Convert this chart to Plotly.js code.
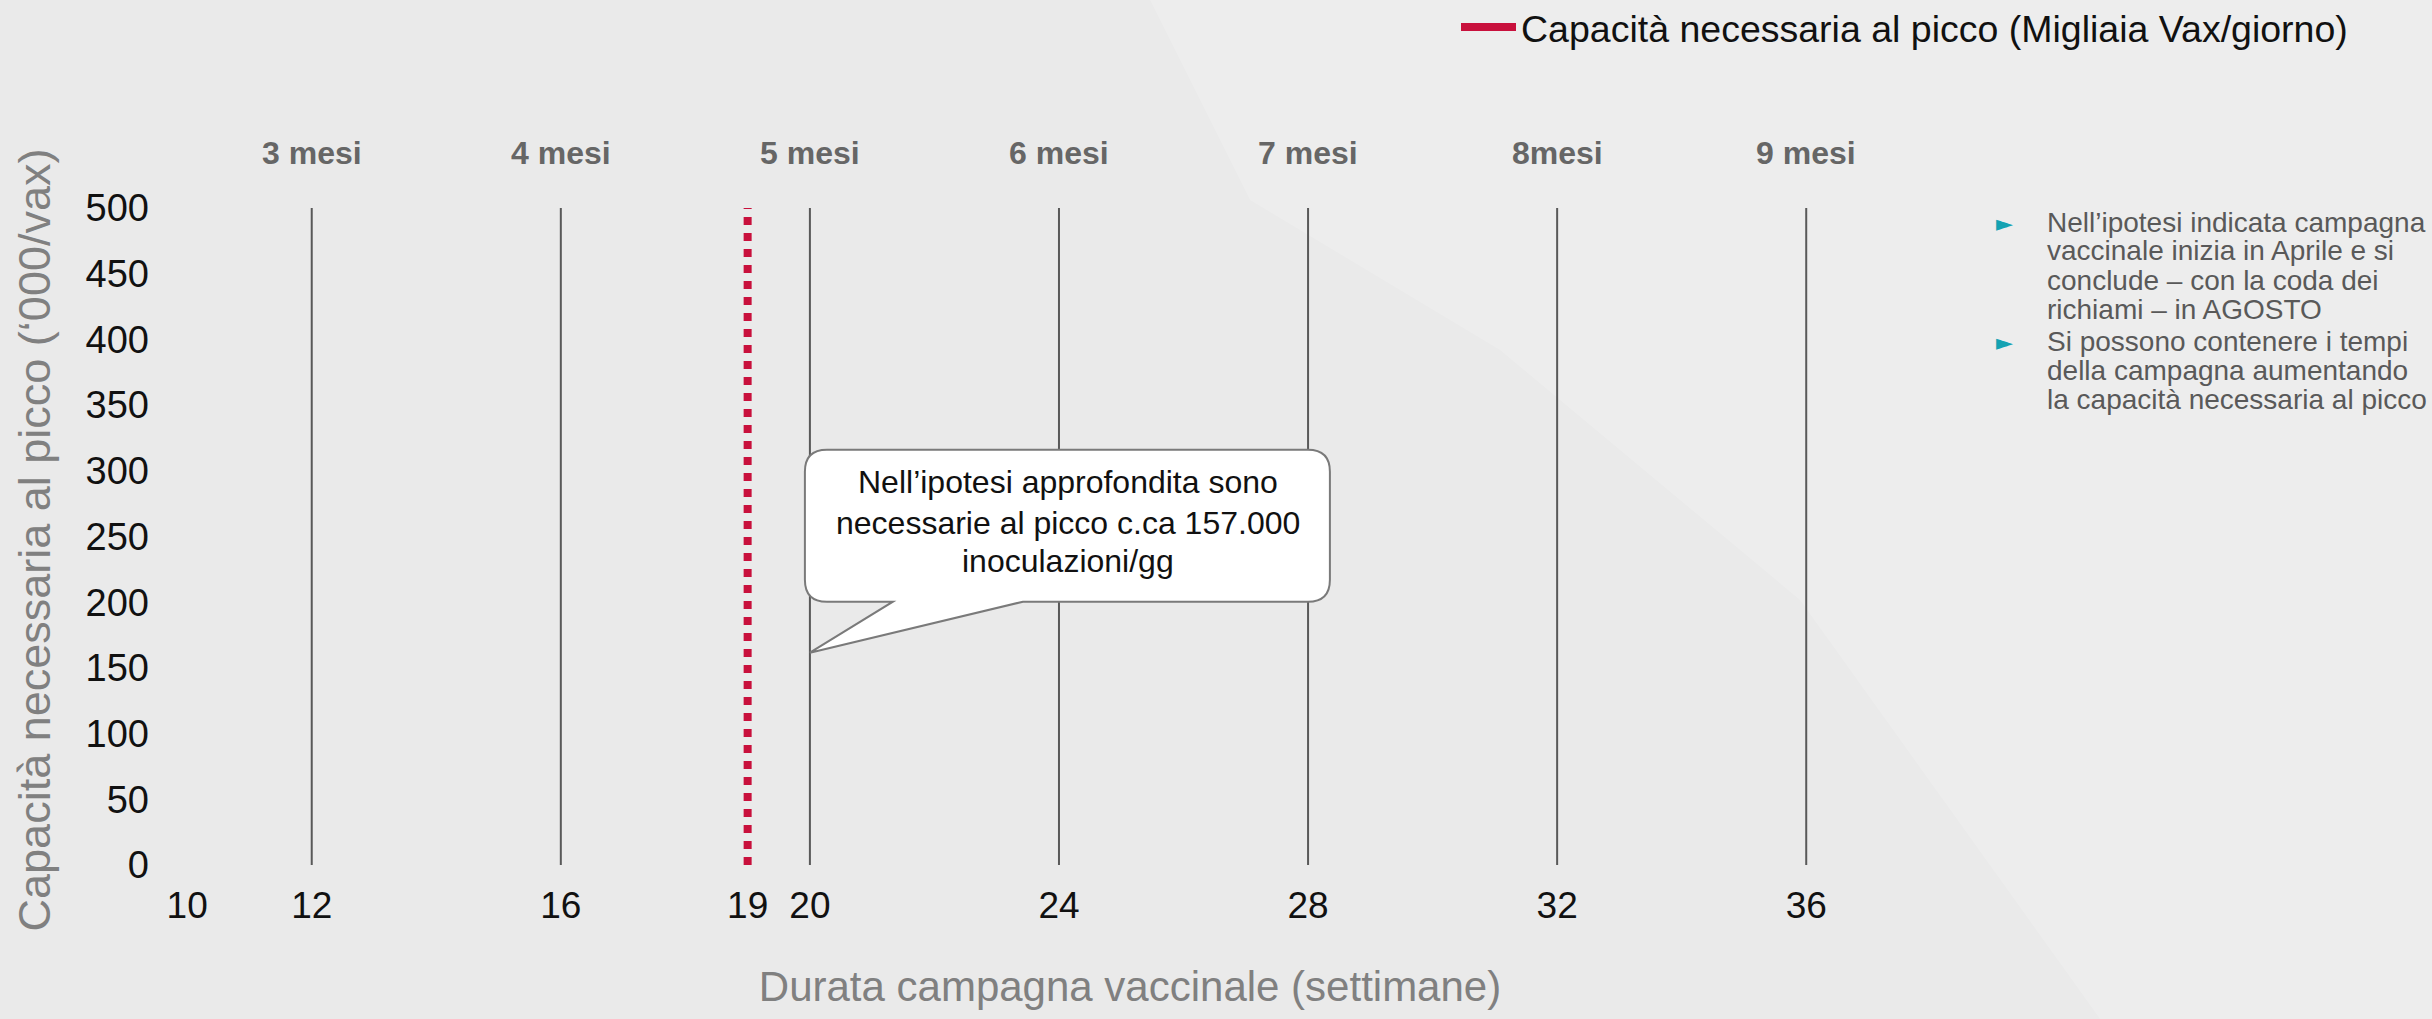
<!DOCTYPE html>
<html>
<head>
<meta charset="utf-8">
<script src="https://cdn.plot.ly/plotly-3.0.1.min.js"></script>
<style>
  html, body { margin: 0; padding: 0; background: #ebebeb; }
  #chart { width: 2432px; height: 1019px; }
</style>
</head>
<body>
<div id="chart"></div>
<script>
// ---------------- data ----------------
const weeks = [12, 16, 20, 24, 28, 32, 36];
const monthLabels = ['3 mesi', '4 mesi', '5 mesi', '6 mesi', '7 mesi', '8mesi', '9 mesi'];
const xTickVals = [10, 12, 16, 19, 20, 24, 28, 32, 36];
const yTickVals = [0, 50, 100, 150, 200, 250, 300, 350, 400, 450, 500];
const capacityMin = 0;
const capacityMax = 500;
const peakWeek = 19;                 // red dotted line
const calloutWeek = 20;              // callout pointer
const calloutCapacity = 157;         // '000 inoculations/day
const legendName = 'Capacità necessaria al picco (Migliaia Vax/giorno)';
const calloutLines = ['Nell’ipotesi approfondita sono', 'necessarie al picco c.ca 157.000', 'inoculazioni/gg'];
const bullet1Lines = ['Nell’ipotesi indicata campagna', 'vaccinale inizia in Aprile e si', 'conclude – con la coda dei', 'richiami – in AGOSTO'];
const bullet2Lines = ['Si possono contenere i tempi', 'della campagna aumentando', 'la capacità necessaria al picco'];
const xTitle = 'Durata campagna vaccinale (settimane)';
const yTitle = 'Capacità necessaria al picco (‘000/vax)';

// ---------------- layout geometry ----------------
const W = 2432, H = 1019;
const M = { l: 160, r: 332, t: 200, b: 139, autoexpand: false };
const PW = W - M.l - M.r, PH = H - M.t - M.b;
const px2x = px => (px - M.l) / PW;
const px2y = py => (H - M.b - py) / PH;

const FONT = 'Liberation Sans, Arial, Helvetica, sans-serif';
const RED = '#c8103c';
const TEAL = '#14a2b2';

// ---------------- traces ----------------
const vx = [], vy = [];
weeks.forEach(w => { vx.push(w, w, null); vy.push(capacityMin, capacityMax, null); });

const traces = [
  {
    x: vx, y: vy, mode: 'lines', type: 'scatter',
    line: { color: '#595959', width: 2 },
    showlegend: false, hoverinfo: 'skip'
  },
  {
    x: [peakWeek, peakWeek], y: [capacityMin, capacityMax], mode: 'lines', type: 'scatter',
    line: { color: RED, width: 8, dash: '8px,8px' },
    showlegend: false, name: legendName
  },
  {
    x: [null], y: [null], mode: 'lines', type: 'scatter',
    line: { color: RED, width: 8 },
    name: legendName, showlegend: true
  }
];

// ---------------- annotations ----------------
const annotations = [];
weeks.forEach((w, i) => {
  annotations.push({
    x: w, xref: 'x', y: px2y(153), yref: 'paper',
    text: '<b>' + monthLabels[i] + '</b>', showarrow: false,
    xanchor: 'center', yanchor: 'middle',
    font: { family: FONT, size: 32, color: '#666666' }
  });
});

// callout (pixel offsets relative to the pointed value)
const LIFT = 6;
const calloutLineDy = [LIFT + 171, LIFT + 130, LIFT + 92];
calloutLines.forEach((t, i) => {
  annotations.push({
    x: calloutWeek, xref: 'x', y: calloutCapacity, yref: 'y',
    xshift: 258, yshift: calloutLineDy[i],
    text: t, showarrow: false, align: 'center',
    xanchor: 'center', yanchor: 'middle',
    font: { family: FONT, size: 32, color: '#111111' }
  });
});

// bullets
const bulletYs1 = [222, 251, 280, 309];
const bulletYs2 = [341, 370, 399];
function addLines(lines, ys) {
  lines.forEach((t, i) => {
    annotations.push({
      x: px2x(2045), xref: 'paper', y: px2y(ys[i]), yref: 'paper',
      text: t, showarrow: false, xanchor: 'left', yanchor: 'middle',
      font: { family: FONT, size: 28, color: '#595959' }
    });
  });
  annotations.push({
    x: px2x(2004), xref: 'paper', y: px2y(ys[0] + 1), yref: 'paper',
    text: '►', showarrow: false, xanchor: 'center', yanchor: 'middle',
    font: { family: 'DejaVu Sans, sans-serif', size: 22, color: TEAL }
  });
}
addLines(bullet1Lines, bulletYs1);
addLines(bullet2Lines, bulletYs2);

// ---------------- callout bubble shape (pixel offsets from pointer tip) ----------------
const L = -5, R = 520, T = 203 + LIFT, B = 51 + LIFT, r = 22, p1 = 83, p2 = 213;
const bubblePath =
  `M${L + r},${T} L${R - r},${T} Q${R},${T} ${R},${T - r} L${R},${B + r} Q${R},${B} ${R - r},${B} ` +
  `L${p2},${B} L0,${LIFT} L${p1},${B} L${L + r},${B} Q${L},${B} ${L},${B + r} L${L},${T - r} Q${L},${T} ${L + r},${T} Z`;

// subtle lighter background region (right side of slide)
const bgPts = [[1150, 0], [2432, 0], [2432, 1019], [2100, 1019], [1800, 600], [1500, 350], [1250, 200]];
const bgPath = 'M' + bgPts.map(p => px2x(p[0]) + ',' + px2y(p[1])).join(' L') + ' Z';

const shapes = [
  {
    type: 'path', xref: 'paper', yref: 'paper', path: bgPath,
    fillcolor: 'rgba(255,255,255,0.16)', line: { width: 0 }, layer: 'below'
  },
  {
    type: 'path', xref: 'x', yref: 'y',
    xsizemode: 'pixel', ysizemode: 'pixel',
    xanchor: calloutWeek, yanchor: calloutCapacity,
    path: bubblePath,
    fillcolor: '#ffffff', line: { color: '#7a7a7a', width: 2 }, layer: 'above'
  }
];

const layout = {
  width: W, height: H,
  margin: M,
  paper_bgcolor: '#eaeaea',
  plot_bgcolor: 'rgba(0,0,0,0)',
  font: { family: FONT, color: '#111111' },
  showlegend: true,
  legend: {
    xref: 'container', yref: 'container',
    x: 1456 / W, y: 1 - 27 / H, xanchor: 'left', yanchor: 'middle',
    bgcolor: 'rgba(0,0,0,0)', itemwidth: 55,
    font: { family: FONT, size: 37.5, color: '#111111' }
  },
  xaxis: {
    range: [10 - (187.2 - M.l) / 62.27, 10 + (M.l + PW - 187.2) / 62.27],
    tickvals: xTickVals, ticktext: xTickVals.map(String),
    showgrid: false, zeroline: false, showline: false, ticks: '',
    tickfont: { family: FONT, size: 37, color: '#111111' },
    ticklabelstandoff: 0,
    title: { text: xTitle, font: { family: FONT, size: 42, color: '#808080' }, standoff: 46 }
  },
  yaxis: {
    range: [-11.42, 506.09],
    tickvals: yTickVals, ticktext: yTickVals.map(String),
    showgrid: false, zeroline: false, showline: false, ticks: '',
    tickfont: { family: FONT, size: 38, color: '#111111' },
    ticklabelstandoff: 10,
    title: { text: yTitle, font: { family: FONT, size: 45, color: '#808080' }, standoff: 20 }
  },
  annotations: annotations,
  shapes: shapes
};

Plotly.newPlot('chart', traces, layout, { displayModeBar: false, staticPlot: true });
</script>
</body>
</html>
